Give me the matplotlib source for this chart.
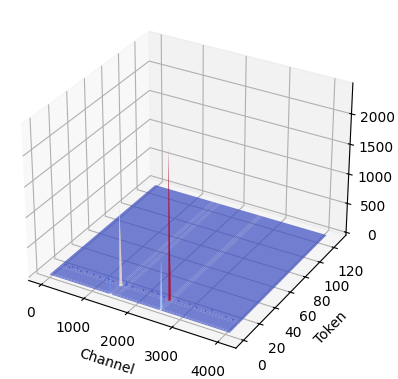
import numpy as np
import matplotlib
matplotlib.use("Agg")
import matplotlib.pyplot as plt

# spikes
peak_channels = [2540, 1430, 2570, 1430, 1560]
peak_tokens = [12, 12, 1, 0, 12]
peak_values = [2450, 1350, 850, 400, 120]

# small bumps along the same token row, they only show as blue dots
small_channels = [150, 220, 300, 420, 500, 640, 800, 950, 1150, 1250, 1700, 1950, 2150, 2280, 2340, 2420, 2750, 3000, 3150, 3350, 3500, 3800, 3950]
small_values = [40, 20, 40, 50, 20, 40, 30, 20, 30, 20, 30, 40, 60, 50, 60, 30, 40, 50, 30, 20, 70, 30, 20]
small_token = 12

channel_range = [0, 4096]
token_range = [0, 128]

# grid only where it is needed, a full one leaves seams all over the floor
half = 32
channels = sorted(set(channel_range + [c + d for c in peak_channels for d in (-half, 0, half)]))
tokens = sorted(set(token_range + [t + d for t in peak_tokens for d in (-1, 0, 1) if t + d >= 0]))

Z = np.zeros((len(tokens), len(channels)))
for c, t, v in zip(peak_channels, peak_tokens, peak_values):
    Z[tokens.index(t), channels.index(c)] = v

X, Y = np.meshgrid(channels, tokens)

fig = plt.figure(figsize=(3.98, 3.79), dpi=100)
ax = fig.add_axes([-0.021, 0.020, 0.973, 0.973], projection="3d")
ax.plot_surface(X, Y, Z, cmap="coolwarm", alpha=0.7, rstride=1, cstride=1, linewidth=0)
# keep the limits of the surface, the dots below would change them
xlim, ylim, zlim = ax.get_xlim(), ax.get_ylim(), ax.get_zlim()
ax.plot(channel_range, [small_token, small_token], [0, 0], color="#3b4cc0", lw=0.5, ls=":", alpha=0.7)
ax.scatter(small_channels, [small_token] * len(small_channels), small_values, color="#3b4cc0", s=1.5, linewidths=0, alpha=0.8)
ax.set_xlim(xlim)
ax.set_ylim(ylim)
ax.set_zlim(zlim)
ax.set_xlabel("Channel")
ax.set_ylabel("Token")
ax.set_xticks([0, 1000, 2000, 3000, 4000])
ax.set_yticks([0, 20, 40, 60, 80, 100, 120])
ax.set_zticks([0, 500, 1000, 1500, 2000])
fig.savefig("out.png", dpi=100)
